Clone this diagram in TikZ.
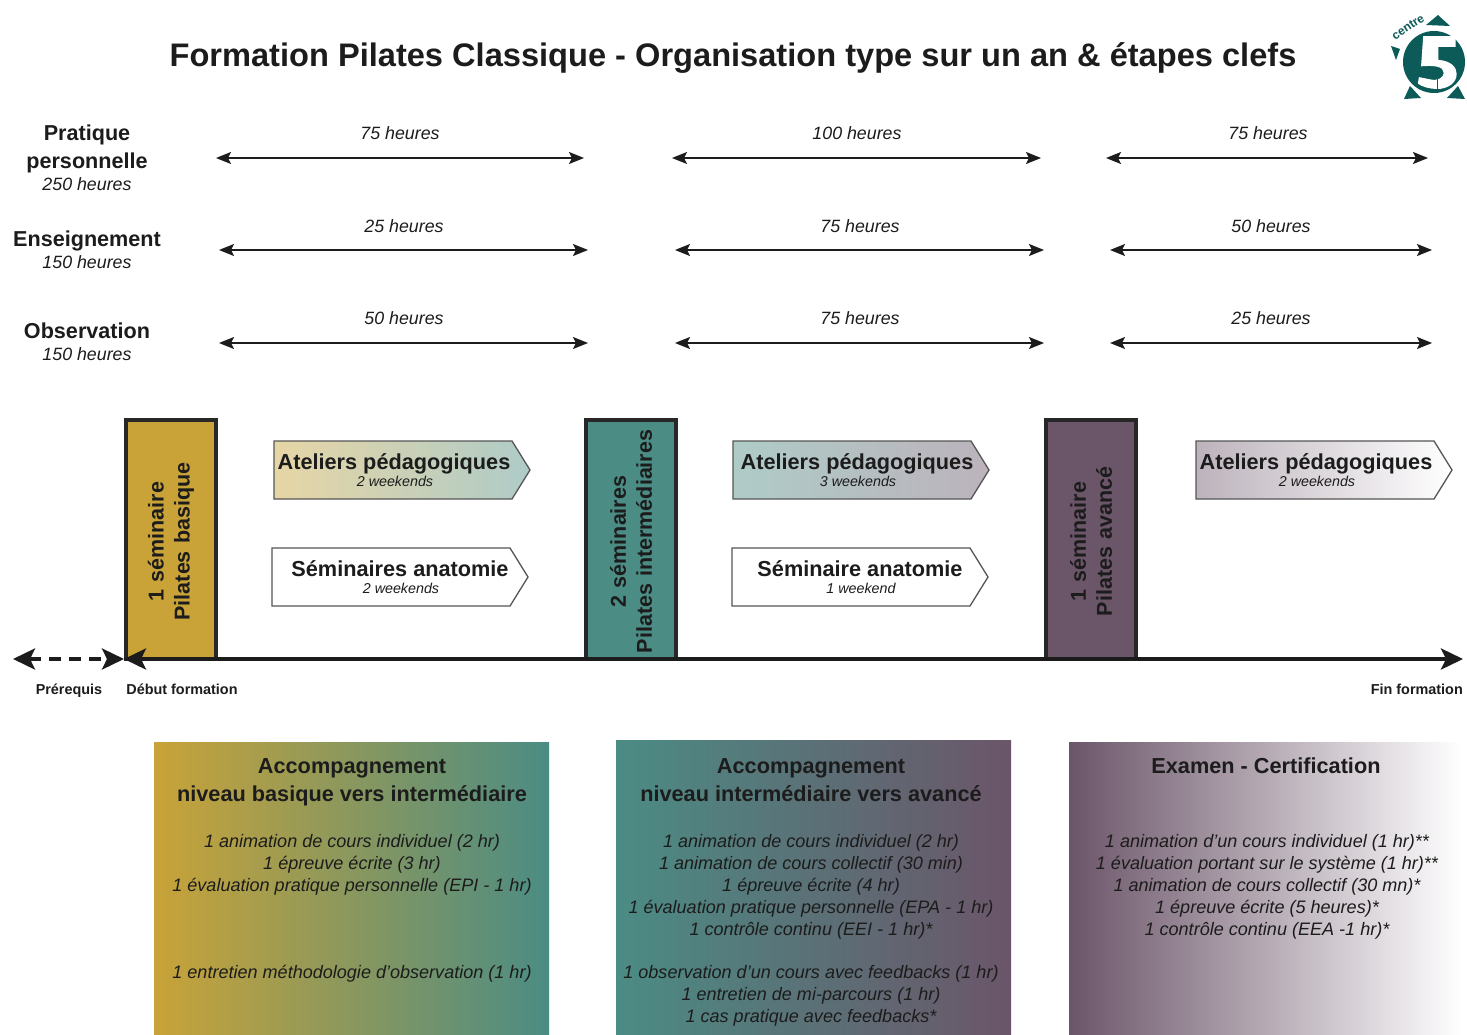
\documentclass[tikz,border=0pt]{standalone}
\usepackage{fontspec}
\setmainfont{Liberation Sans}
\usetikzlibrary{arrows.meta}
\definecolor{ink}{HTML}{1C1C1C}
\definecolor{jaune}{HTML}{C9A338}
\definecolor{sarcelle}{HTML}{4B8C84}
\definecolor{prune}{HTML}{6B5569}
\definecolor{logoc}{HTML}{0C5B58}
\newcommand{\fs}[1]{\fontsize{#1}{#1}\selectfont}
\tikzset{
  x=1pt,y=-1pt,
  every node/.style={text=ink,inner sep=0pt,align=center},
  titre/.style={font=\fs{32.6}\bfseries},
  rowlab/.style={font=\fs{21.6}\bfseries,align=center},
  small/.style={font=\fs{17.8}\itshape},
  hr/.style={draw=ink,line width=1.5pt,{Stealth[length=15pt,width=12pt,inset=3pt]}-{Stealth[length=15pt,width=12pt,inset=3pt]}},
  semin/.style={draw=ink!95,line width=4pt,outer sep=0pt,minimum width=90pt,minimum height=239pt,anchor=north west},
  semtext/.style={font=\fs{21.5}\bfseries,rotate=90,align=center,text width=235pt},
  pent/.style={draw=ink!75,line width=1.3pt},
  penttitle/.style={font=\fs{21.7}\bfseries},
  pentsub/.style={font=\fs{14.3}\itshape},
  axis/.style={draw=ink,line width=4pt},
  bigtip/.style={{Stealth[length=22pt,width=21pt,inset=5pt]}-{Stealth[length=22pt,width=21pt,inset=5pt]}},
  milestone/.style={font=\fs{14.4}\bfseries},
  boxtitle/.style={font=\fs{21.7}\bfseries,align=center},
  boxbody/.style={font=\fs{18.05}\itshape,align=center},
}
\newcommand{\pentagon}[6]{%
  \path[pent,left color=#5,right color=#6]
    (#1,#2) -- (#1+#3-18,#2) -- (#1+#3,#2+29) -- (#1+#3-18,#2+58) -- (#1,#2+58) -- cycle;%
}
\begin{document}
\begin{tikzpicture}
\useasboundingbox (0,0) rectangle (1467,1035);
\fill[white] (0,0) rectangle (1467,1035);
\node[titre] (title) at (733,58) {Formation Pilates Classique - Organisation type sur un an \& étapes clefs};

% logo
\fill[logoc] (1434,62) circle (31);
\fill[logoc] (1426,25) -- (1438,15) -- (1450,26) -- cycle;
\fill[logoc] (1391,46) -- (1400,49) -- (1396,60) -- cycle;
\fill[logoc] (1404,99) -- (1410,86) -- (1421,98) -- cycle;
\fill[logoc] (1447,98) -- (1458,86) -- (1465,99) -- cycle;
\begin{scope}[shift={(1434,62)},scale=1.08,shift={(-1432,-62)}]
\fill[white] (1422,38) -- (1452,38) -- (1452,48) -- (1436,48) -- (1436,60)
  .. controls (1448,61) and (1453,67) .. (1453,73)
  .. controls (1453,82) and (1444,87) .. (1435,87)
  .. controls (1428,87) and (1421,85) .. (1417,82)
  -- (1418,76) -- (1428,78) .. controls (1436,80) and (1441,76) .. (1441,72)
  .. controls (1441,66) and (1432,65) .. (1420,66) -- cycle;
\draw[logoc,line width=0.9pt] (1435,78) -- (1435,87);
\end{scope}
\node[font=\fs{12}\bfseries,text=logoc,rotate=33] (logotxt) at (1408,27) {centre};

% rows
\node[rowlab] (r1) at (87,149) {Pratique\\[6pt]personnelle};
\node[small] (r1h) at (87,184) {250 heures};
\node[rowlab] (r2) at (87,241) {Enseignement};
\node[small] (r2h) at (87,262) {150 heures};
\node[rowlab] (r3) at (87,331) {Observation};
\node[small] (r3h) at (87,354) {150 heures};

\coordinate (a1l) at (216,158); \coordinate (a1r) at (584,158);
\coordinate (a2l) at (672,158); \coordinate (a2r) at (1041,158);
\coordinate (a3l) at (1106,158); \coordinate (a3r) at (1428,158);
\coordinate (b1l) at (219,250); \coordinate (b1r) at (588,250);
\coordinate (b2l) at (675,250); \coordinate (b2r) at (1044,250);
\coordinate (b3l) at (1110,250); \coordinate (b3r) at (1432,250);
\coordinate (c1l) at (219,343); \coordinate (c1r) at (588,343);
\coordinate (c2l) at (675,343); \coordinate (c2r) at (1044,343);
\coordinate (c3l) at (1110,343); \coordinate (c3r) at (1432,343);
\foreach \n in {a1,a2,a3,b1,b2,b3,c1,c2,c3} \draw[hr] (\n l) -- (\n r);
\node[small] (ta1) at (400,133) {75 heures};
\node[small] (ta2) at (857,133) {100 heures};
\node[small] (ta3) at (1268,133) {75 heures};
\node[small] (tb1) at (404,226) {25 heures};
\node[small] (tb2) at (860,226) {75 heures};
\node[small] (tb3) at (1271,226) {50 heures};
\node[small] (tc1) at (404,318) {50 heures};
\node[small] (tc2) at (860,318) {75 heures};
\node[small] (tc3) at (1271,318) {25 heures};

% axis
\coordinate (debut) at (124,659);
\coordinate (fin) at (1463,659);
\coordinate (pre) at (13,659);
\node[semin,fill=jaune] (s1) at (126,420) {};
\node[semin,fill=sarcelle] (s2) at (586,420) {};
\node[semin,fill=prune] (s3) at (1046,420) {};
\node[semtext,xshift=-2pt] (s1t) at (s1.center) {1 séminaire\\[4.5pt]Pilates basique};
\node[semtext,xshift=-2pt] (s2t) at (s2.center) {2 séminaires\\[4.5pt]Pilates intermédiaires};
\node[semtext,xshift=-2pt] (s3t) at (s3.center) {1 séminaire\\[4.5pt]Pilates avancé};
\draw[axis,bigtip] (debut) -- (fin);
\draw[axis,dash pattern=on 12pt off 8pt,bigtip] (pre) -- (debut);
\node[milestone] (m1) at (69,691) {Prérequis};
\node[milestone] (m2) at (182,689) {Début formation};
\node[milestone,anchor=east] (m3) at (1463,689) {Fin formation};

% pentagons
\pentagon{274}{441}{256}{}{jaune!45!white}{sarcelle!45!white}
\pentagon{272}{548}{256}{}{white}{white}
\pentagon{733}{441}{256}{}{sarcelle!45!white}{prune!45!white}
\pentagon{732}{548}{256}{}{white}{white}
\pentagon{1196}{441}{256}{}{prune!45!white}{white}
\node[penttitle] (p1) at (394,464) {Ateliers pédagogiques};
\node[pentsub] (p1s) at (395,481) {2 weekends};
\node[penttitle] (p2) at (400,569) {Séminaires anatomie};
\node[pentsub] (p2s) at (401,588) {2 weekends};
\node[penttitle] (p3) at (857,464) {Ateliers pédagogiques};
\node[pentsub] (p3s) at (858,481) {3 weekends};
\node[penttitle] (p4) at (860,569) {Séminaire anatomie};
\node[pentsub] (p4s) at (861,588) {1 weekend};
\node[penttitle] (p5) at (1316,464) {Ateliers pédagogiques};
\node[pentsub] (p5s) at (1317,481) {2 weekends};

% boxes
\shade[left color=jaune,right color=sarcelle] (154,742) rectangle (549,1035);
\shade[left color=sarcelle,right color=prune] (616,740) rectangle (1011,1035);
\shade[left color=prune,right color=white] (1069,742) rectangle (1462,1035);
\node[boxtitle] (t1) at (352,782) {Accompagnement\\[6pt]niveau basique vers intermédiaire};
\node[boxtitle] (t2) at (811,780) {Accompagnement\\[6pt]niveau intermédiaire vers avancé};
\node[boxtitle] (t3) at (1266,766) {Examen - Certification};
\node[boxbody,anchor=north] (b1) at (352,834) {1 animation de cours individuel (2 hr)\\[4pt]1 épreuve écrite (3 hr)\\[4pt]1 évaluation pratique personnelle (EPI - 1 hr)};
\node[boxbody] (b1x) at (352,974) {1 entretien méthodologie d’observation (1 hr)};
\node[boxbody,anchor=north] (b2) at (811,834) {1 animation de cours individuel (2 hr)\\[4pt]1 animation de cours collectif (30 min)\\[4pt]1 épreuve écrite (4 hr)\\[4pt]1 évaluation pratique personnelle (EPA - 1 hr)\\[4pt]1 contrôle continu (EEI - 1 hr)*};
\node[boxbody,anchor=north] (b2x) at (811,965) {1 observation d’un cours avec feedbacks (1 hr)\\[4pt]1 entretien de mi-parcours (1 hr)\\[4pt]1 cas pratique avec feedbacks*};
\node[boxbody,anchor=north] (b3) at (1267,834) {1 animation d’un cours individuel (1 hr)**\\[4pt]1 évaluation portant sur le système (1 hr)**\\[4pt]1 animation de cours collectif (30 mn)*\\[4pt]1 épreuve écrite (5 heures)*\\[4pt]1 contrôle continu (EEA -1 hr)*};
\end{tikzpicture}
\end{document}
